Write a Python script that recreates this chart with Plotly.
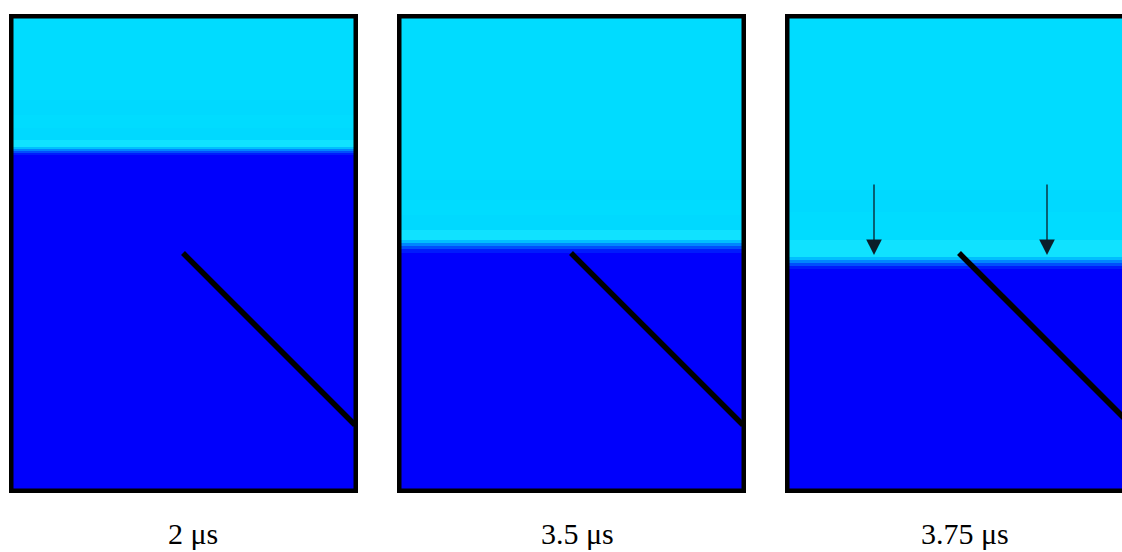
import plotly.graph_objects as go

panel_labels = ["2 μs", "3.5 μs", "3.75 μs"]

# vertical volume-fraction profiles: band edges (depth) and value of each band
edges_2us = [0, 86, 101, 114, 126, 133, 135, 137, 139, 141, 479]
frac_2us = [0.90, 0.89, 0.90, 0.89, 0.94, 0.80, 0.60, 0.40, 0.18, 0.0]

edges_35us = [0, 166, 186, 201, 216, 226, 229, 232, 235, 239, 479]
frac_35us = [0.90, 0.89, 0.90, 0.89, 0.94, 0.80, 0.60, 0.40, 0.18, 0.0]

edges_375us = [0, 176, 198, 226, 243, 246, 249, 252, 255, 479]
frac_375us = [0.90, 0.89, 0.90, 0.94, 0.80, 0.60, 0.40, 0.18, 0.0]

panel_width = [349, 350, 337]     # visible widths (third panel is cut at the page edge)
plate_x = [174, 346]              # inclined plate end points
plate_y = [239, 411]
arrow_x = [89, 262]               # arrows in the last panel
arrow_top, arrow_tip = 169, 241

# ---- figure ----
W, H = 1122, 552
left_px = [9, 397, 785]
top_px, bot_px = 14, 493

colorscale = [
    [0.0, "rgb(0,0,252)"],
    [0.2, "rgb(0,30,252)"],
    [0.45, "rgb(0,90,252)"],
    [0.75, "rgb(0,175,255)"],
    [0.9, "rgb(0,220,255)"],
    [1.0, "rgb(40,236,255)"],
]

profiles = [(edges_2us, frac_2us), (edges_35us, frac_35us), (edges_375us, frac_375us)]

fig = go.Figure()
layout = dict(
    width=W, height=H, margin=dict(l=0, r=0, t=0, b=0),
    paper_bgcolor="white", plot_bgcolor="white", showlegend=False,
)
shapes, annotations = [], []

for i, (edges, frac) in enumerate(profiles):
    n = "" if i == 0 else str(i + 1)
    xa, ya = "x" + n, "y" + n
    full_w = 349
    fig.add_trace(go.Heatmap(
        x=[0, full_w], y=edges, z=[[v] for v in frac],
        zmin=0, zmax=1, colorscale=colorscale, showscale=False,
        xaxis=xa, yaxis=ya, hoverinfo="skip",
    ))
    fig.add_trace(go.Scatter(
        x=plate_x, y=plate_y, mode="lines",
        line=dict(color="black", width=5.5), xaxis=xa, yaxis=ya, hoverinfo="skip",
    ))
    x0 = left_px[i] / W
    x1 = min((left_px[i] + panel_width[i]) / W, 1.0)
    layout["xaxis" + n] = dict(domain=[x0, x1], range=[0, panel_width[i]], visible=False,
                               anchor=ya, fixedrange=True)
    layout["yaxis" + n] = dict(domain=[1 - bot_px / H, 1 - top_px / H], range=[479, 0],
                               visible=False, anchor=xa, fixedrange=True)
    shapes.append(dict(type="rect", xref=xa, yref=ya, x0=2.25, x1=full_w - 2.25,
                       y0=2.25, y1=479 - 2.25, line=dict(color="black", width=4.5)))
    cx = (left_px[i] + [184, 180, 180][i]) / W
    annotations.append(dict(text=panel_labels[i], x=cx, y=1 - 533 / H, xref="paper", yref="paper",
                            xanchor="center", yanchor="middle", showarrow=False,
                            font=dict(family="Liberation Serif", size=30, color="black")))

for ax_ in arrow_x:
    annotations.append(dict(x=ax_, y=arrow_tip, ax=ax_, ay=arrow_top, xref="x3", yref="y3",
                            axref="x3", ayref="y3", text="", showarrow=True, arrowhead=2,
                            arrowsize=2.4, arrowwidth=1.3, arrowcolor="#0b1e2a", standoff=0))

layout["shapes"] = shapes
layout["annotations"] = annotations
fig.update_layout(**layout)
fig.write_html("out.html", config={"displayModeBar": False},
               post_script="document.body.style.margin='0';document.body.style.overflow='hidden';")
